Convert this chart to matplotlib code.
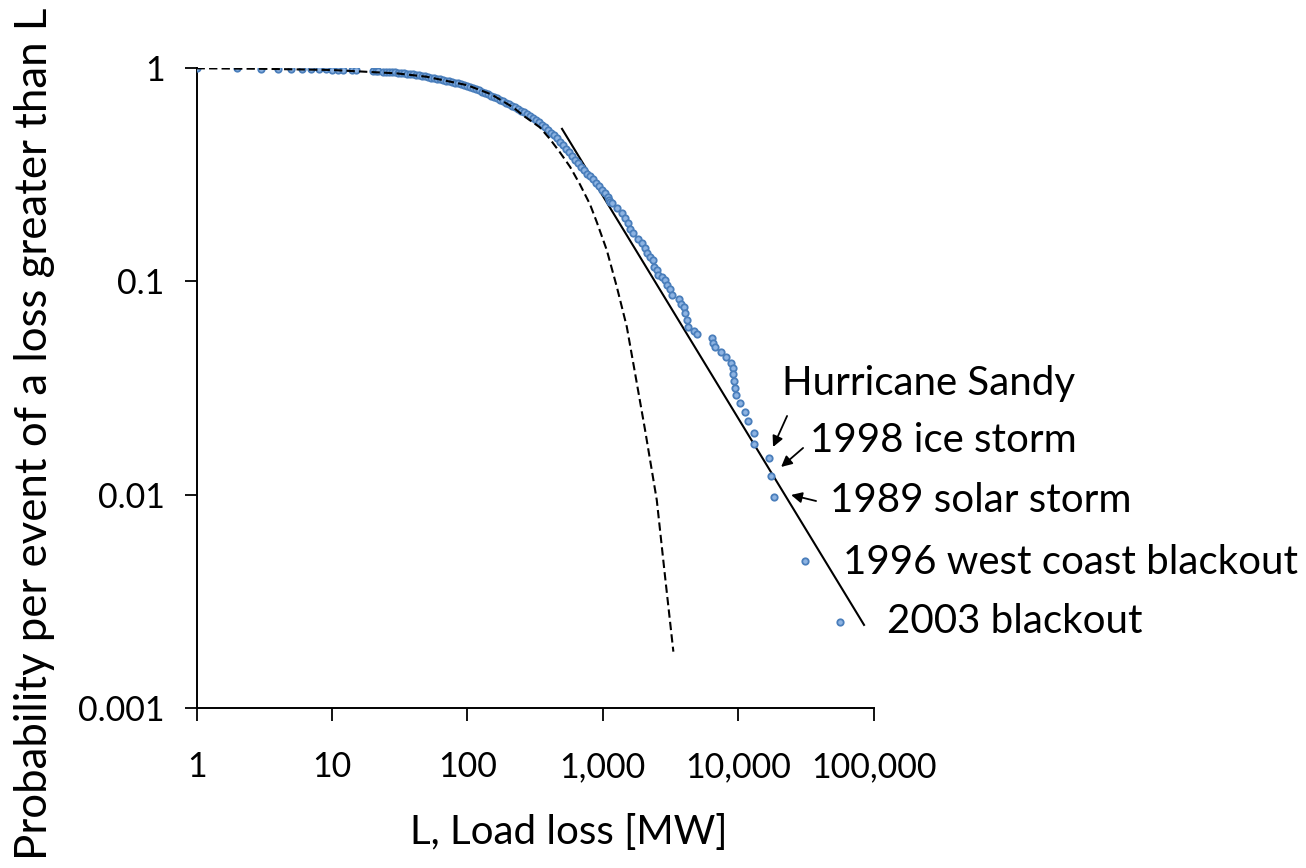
import matplotlib
matplotlib.use("Agg")
import matplotlib.pyplot as plt

plt.rcParams['font.family'] = ['Lato', 'DejaVu Sans']

# observed events: load loss [MW] and probability of a loss greater than L
flat_loss = [1, 2, 3, 4, 5, 6, 7, 8, 9, 10, 11, 12, 14, 15, 20, 21, 22]
flat_prob = [1.0, 0.998, 0.996, 0.995, 0.993, 0.992, 0.99, 0.989, 0.988, 0.986,
             0.985, 0.983, 0.98, 0.978, 0.975, 0.972, 0.97]

knee_loss = [23.9, 25.1, 26.4, 27.8, 29.3, 30.8, 32.4, 34.1, 35.9, 37.7, 39.7, 41.8,
             44.0, 46.3, 48.7, 51.3, 54.0, 56.8, 59.7, 62.9, 66.2, 69.6, 73.3, 77.1,
             81.1, 85.4, 89.8, 94.6, 99.5, 104.7, 110.2, 115.9, 122.0, 128.4, 135.1,
             142.2, 149.6, 157.5, 165.7, 174.3, 183.5, 193.1, 203.2, 213.8, 225.0,
             236.8, 249.2, 262.2, 275.9, 290.4, 305.6, 321.6, 338.6, 356.3, 374.9,
             394.5, 415.2, 436.9, 459.8, 483.8, 509.1, 535.7, 563.7, 593.2, 624.2,
             656.8, 691.2, 727.3, 765.3, 805.4, 847.5, 891.8, 938.5, 987.5, 1039, 1094]
knee_prob = [0.966, 0.964, 0.961, 0.959, 0.957, 0.955, 0.952, 0.948, 0.945, 0.942,
             0.938, 0.933, 0.928, 0.922, 0.916, 0.910, 0.905, 0.899, 0.893, 0.887,
             0.881, 0.875, 0.868, 0.862, 0.855, 0.849, 0.841, 0.834, 0.826, 0.818,
             0.809, 0.800, 0.789, 0.778, 0.767, 0.756, 0.745, 0.733, 0.722, 0.712,
             0.701, 0.690, 0.680, 0.668, 0.657, 0.646, 0.633, 0.621, 0.609, 0.596,
             0.583, 0.570, 0.557, 0.543, 0.529, 0.515, 0.499, 0.484, 0.469, 0.452,
             0.437, 0.420, 0.405, 0.389, 0.373, 0.358, 0.344, 0.332, 0.321, 0.311,
             0.301, 0.290, 0.281, 0.270, 0.259, 0.248]

tail_loss = [1120, 1140, 1165, 1269, 1381, 1461, 1546, 1591, 1683, 1832, 1941, 2053,
             2113, 2235, 2364, 2392, 2505, 2575, 2728, 2885, 3000, 3142, 3266, 3679,
             3768, 4005, 4074, 4172, 4244, 4747, 4995, 6450, 6560, 6787, 7438, 8183,
             8815, 9122, 9215, 9374, 9535, 9601, 10276, 11186, 11775, 13107, 13176,
             17002, 17414, 18322, 31200, 56300]
tail_prob = [0.242, 0.237, 0.2327, 0.2205, 0.2089, 0.1979, 0.1875, 0.1757, 0.1683,
             0.1577, 0.1510, 0.1431, 0.1356, 0.1299, 0.1261, 0.1173, 0.1132, 0.1072,
             0.1046, 0.1016, 0.0963, 0.0919, 0.0864, 0.0828, 0.0784, 0.0761, 0.0709,
             0.0660, 0.0614, 0.0588, 0.0565, 0.0542, 0.0516, 0.0491, 0.0466, 0.0441,
             0.0416, 0.0392, 0.0368, 0.0341, 0.0318, 0.0293, 0.0269, 0.0244, 0.0221,
             0.0194, 0.0172, 0.0148, 0.0123, 0.00979, 0.0049, 0.00252]

# exponential-type fit (dashed)
fit_loss = [1, 3, 10, 30, 50, 100, 150, 218.6, 259, 344, 406, 482, 573.6, 679, 805,
            903, 1070, 1269, 1504, 1732, 2053, 2505, 2885, 3322]
fit_prob = [1.0, 0.995, 0.982, 0.947, 0.913, 0.833, 0.755, 0.655, 0.6, 0.528,
            0.467, 0.404, 0.345, 0.285, 0.23, 0.19, 0.1405, 0.0945, 0.0614, 0.0371,
            0.0201, 0.00944, 0.00412, 0.001835]

# power law fit (solid)
power_loss = [500, 85000]
power_prob = [0.52, 0.00245]

events = ["Hurricane Sandy", "1998 ice storm", "1989 solar storm",
          "1996 west coast blackout", "2003 blackout"]
event_text_pos = [(21100, 0.0334), (33960, 0.01786), (47700, 0.00934),
                  (59600, 0.00483), (125900, 0.00253)]
arrows = [((22970, 0.0234), (18100, 0.01674)),
          ((30150, 0.01656), (20750, 0.01349)),
          ((37600, 0.00934), (24600, 0.00997))]

x_ticks = [1, 10, 100, 1000, 10000, 100000]
x_labels = ['1', '10', '100', '1,000', '10,000', '100,000']
y_ticks = [0.001, 0.01, 0.1, 1]
y_labels = ['0.001', '0.01', '0.1', '1']

fig = plt.figure(figsize=(13.06, 8.68), dpi=100)
ax = fig.add_axes([0.1505, 0.1845, 0.5184, 0.7368])

for xs, ys in [(flat_loss, flat_prob), (knee_loss, knee_prob), (tail_loss, tail_prob)]:
    ax.plot(xs, ys, ls='none', marker='o', markersize=4.6,
            markerfacecolor='#8db3e2', markeredgecolor='#4a7ebb',
            markeredgewidth=1.3, zorder=3)

ax.plot(fit_loss, fit_prob, color='black', lw=1.5, ls=(0, (4, 2)), zorder=4)
ax.plot(power_loss, power_prob, color='black', lw=1.5, zorder=2)

ax.set_xscale('log')
ax.set_yscale('log')
ax.set_xlim(1, 100000)
ax.set_ylim(0.001, 1)
ax.set_xticks(x_ticks)
ax.set_xticklabels(x_labels)
ax.set_yticks(y_ticks)
ax.set_yticklabels(y_labels)
ax.minorticks_off()

for s in ['top', 'right']:
    ax.spines[s].set_visible(False)
for s in ['left', 'bottom']:
    ax.spines[s].set_linewidth(1.4)
ax.tick_params(axis='both', which='major', direction='out', length=9, width=1.3,
               labelsize=24.5, colors='black')
ax.tick_params(axis='x', pad=22)
ax.tick_params(axis='y', pad=14)

for name, pos in zip(events, event_text_pos):
    ax.text(pos[0], pos[1], name, fontsize=29, ha='left', va='center')

for tail, head in arrows:
    ax.annotate('', xy=head, xytext=tail,
                arrowprops=dict(arrowstyle='-|>', color='black', lw=1.3,
                                mutation_scale=16, shrinkA=0, shrinkB=0))

fig.text(569 / 1306, 1 - 832 / 868, 'L, Load loss [MW]', fontsize=29,
         ha='center', va='center')
fig.text(35 / 1306, 0.5, 'Probability per event of a loss greater than L',
         fontsize=31.5, rotation=90, ha='center', va='center')

fig.savefig('out.png', dpi=100)
